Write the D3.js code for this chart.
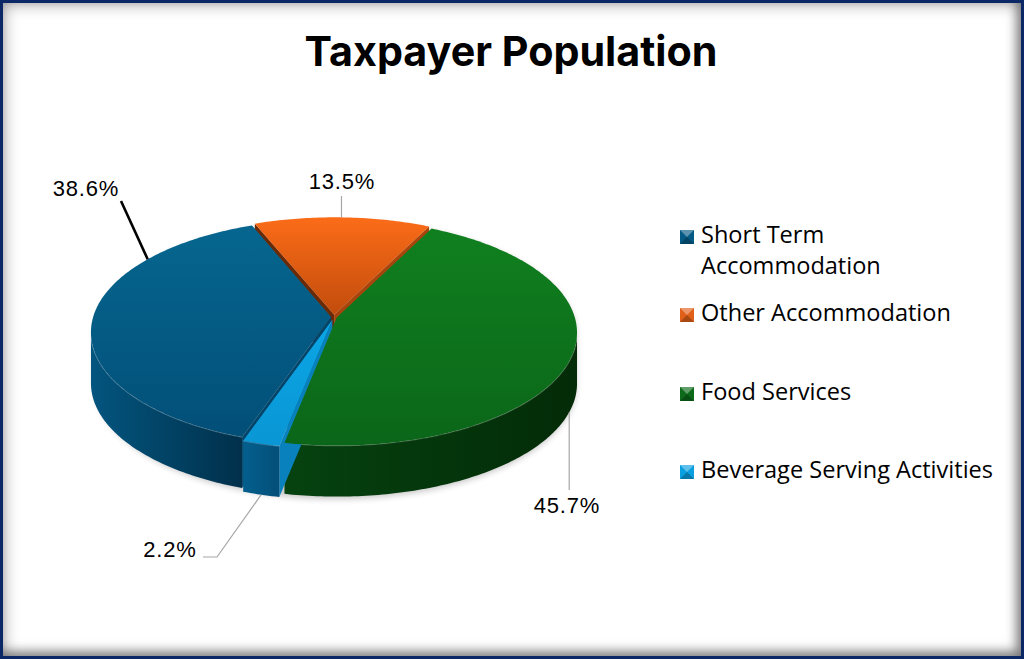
<!DOCTYPE html>
<html>
<head>
<meta charset="utf-8">
<script src="https://cdn.jsdelivr.net/npm/d3@7"></script>
<style>
html, body { margin: 0; padding: 0; background: #fff; }
#frame {
	position: relative; width: 1024px; height: 659px; box-sizing: border-box;
	border: 3px solid #0b2766; background: #fff;
	box-shadow: inset 0 0 16px rgba(0,0,0,0.42), inset -5px -5px 10px rgba(0,0,0,0.3);
}
#frame svg { position: absolute; left: -3px; top: -3px; }
</style>
</head>
<body>
<div id="frame"></div>
<script>
// chart data
var categories = ["Short Term Accommodation", "Other Accommodation", "Food Services", "Beverage Serving Activities"];
var legendLines = [["Short Term", "Accommodation"], ["Other Accommodation"], ["Food Services"], ["Beverage Serving Activities"]];
var shares = [38.6, 13.5, 45.7, 2.2];
var shareLabels = ["38.6%", "13.5%", "45.7%", "2.2%"];

// colours per slice
var topLight  = ["#06668f", "#fb6c18", "#10801f", "#0ba6e6"];
var topDark   = ["#024f78", "#c24c0c", "#0b6619", "#0a96d4"];
var wallLeft  = ["#03557f", "#9a3c08", "#064210", "#045f8e"];
var wallRight = ["#01304b", "#6a2804", "#032b07", "#034f78"];
var faceRight = ["#02456a", "#a8440c", "#05400c", "#0981bd"];
var faceLeft  = ["#013a5a", "#6b2905", "#04330a", "#03507a"];
var legendColors = ["#045a84", "#e0601a", "#0c6a1a", "#0aa0e0"];

(function(){
	'use strict'
	var W = 1024, H = 659;
	var svg = d3.select("#frame").append("svg").attr("width", W).attr("height", H);
	var defs = svg.append("defs");

	// pie geometry (a small perspective so the far half looks shorter)
	var cx = 334, cy = 317, rx = 238, ry = 111, depth = 51, persp = 0.133;
	var explode = [0.012, 0.02, 0.012, 0.026];
	var startDeg = 199;

	function project(a, r, off, h){
		var x = off[0] + r*Math.sin(a), z = off[1] + r*Math.cos(a);
		var w = 1 + persp*z;
		return [cx + rx*x/w, cy - ry*z/w + depth*h];
	}
	function arcPts(a0, a1, off, h){
		var n = Math.max(2, Math.ceil(Math.abs(a1 - a0)/0.015));
		return d3.range(n + 1).map(function(i){ return project(a0 + (a1 - a0)*i/n, 1, off, h); });
	}
	function shoelace(p){
		var s = 0;
		for(var i = 0; i < p.length; i++){
			var a = p[i], b = p[(i + 1) % p.length];
			s += a[0]*b[1] - b[0]*a[1];
		}
		return s;
	}
	var line = d3.line();
	var closed = function(p){ return line(p) + "Z"; };

	var pie = d3.pie().sort(null)
		.startAngle(startDeg*Math.PI/180)
		.endAngle(startDeg*Math.PI/180 + 2*Math.PI);
	var arcs = pie(shares).map(function(d, i){
		var mid = (d.startAngle + d.endAngle)/2;
		d.i = i;
		d.mid = mid;
		d.off = [explode[i]*Math.sin(mid), explode[i]*Math.cos(mid)];
		return d;
	});

	// soft shadow under the pie
	var blur = defs.append("filter").attr("id", "pieShadow").attr("x", "-10%").attr("y", "-10%").attr("width", "120%").attr("height", "130%");
	blur.append("feGaussianBlur").attr("stdDeviation", 3);
	var sil = Math.acos(-persp);
	var hull = arcPts(2*Math.PI - sil, 2*Math.PI + sil, [0,0], 0)
		.concat(arcPts(sil, 2*Math.PI - sil, [0,0], 1));
	svg.append("path").attr("d", closed(hull))
		.attr("fill", "#000").attr("opacity", 0.22)
		.attr("transform", "translate(2,3)")
		.attr("filter", "url(#pieShadow)");

	// gradients
	arcs.forEach(function(d, i){
		var g = defs.append("linearGradient").attr("id", "top" + i).attr("x1", 0).attr("y1", 0).attr("x2", 0).attr("y2", 1);
		g.append("stop").attr("offset", "0%").attr("stop-color", topLight[i]);
		g.append("stop").attr("offset", "100%").attr("stop-color", topDark[i]);
		var s = defs.append("linearGradient").attr("id", "wall" + i).attr("x1", 0).attr("y1", 0).attr("x2", 1).attr("y2", 0);
		s.append("stop").attr("offset", "0%").attr("stop-color", wallLeft[i]);
		s.append("stop").attr("offset", "100%").attr("stop-color", wallRight[i]);
	});

	var gWalls = svg.append("g");
	var gTops = svg.append("g");

	// walls, far slices first
	var order = arcs.slice().sort(function(a, b){ return Math.cos(b.mid) - Math.cos(a.mid); });
	order.forEach(function(d){
		var i = d.i;
		// cut faces
		[[d.startAngle, -1], [d.endAngle, 1]].forEach(function(f){
			var a = f[0];
			var poly = [project(a, 0, d.off, 0), project(a, 1, d.off, 0), project(a, 1, d.off, 1), project(a, 0, d.off, 1)];
			var s = shoelace(poly);
			if((f[1] < 0 && s < 0) || (f[1] > 0 && s > 0)){
				var facesRight = Math.sin(a + f[1]*Math.PI/2) > 0;
				gWalls.append("path").attr("d", closed(poly))
					.attr("fill", facesRight ? faceRight[i] : faceLeft[i]);
			}
		});
		// outer wall, front part only
		for(var n = 0; n < 2; n++){
			var lo = Math.max(d.startAngle, sil + 2*Math.PI*n);
			var hi = Math.min(d.endAngle, 2*Math.PI - sil + 2*Math.PI*n);
			if(hi > lo){
				var pts = arcPts(lo, hi, d.off, 0).concat(arcPts(hi, lo, d.off, 1));
				gWalls.append("path").attr("d", closed(pts)).attr("fill", "url(#wall" + i + ")");
				gWalls.append("path").attr("d", line(arcPts(lo, hi, d.off, 0)))
					.attr("fill", "none").attr("stroke", "#ffffff").attr("stroke-opacity", 0.22).attr("stroke-width", 1.5);
			}
		}
	});

	// top faces
	arcs.forEach(function(d){
		var pts = [project(0, 0, d.off, 0)].concat(arcPts(d.startAngle, d.endAngle, d.off, 0));
		gTops.append("path").attr("d", closed(pts)).attr("fill", "url(#top" + d.i + ")");
	});

	// data labels with leader lines
	var labelFont = "'Liberation Sans', Arial, sans-serif";
	var anchorDeg = [304, 2, 112, 195];
	var anchorLevel = [0, 0, 1, 1];
	var anchors = arcs.map(function(d, i){ return project(anchorDeg[i]*Math.PI/180, 1, d.off, anchorLevel[i]); });
	var leaders = [
		[anchors[0], [121, 201]],
		[anchors[1], [anchors[1][0], 196]],
		[anchors[2], [anchors[2][0], 490]],
		[anchors[3], [217, 557], [203, 557]]
	];
	var leaderColor = ["#000000", "#a6a6a6", "#a6a6a6", "#a6a6a6"];
	var leaderWidth = [2.6, 1.2, 1.2, 1.2];
	var labelPos = [[86, 196], [342, 189], [567, 513], [170, 557]];
	leaders.forEach(function(p, i){
		svg.append("path").attr("d", line(p)).attr("fill", "none")
			.attr("stroke", leaderColor[i]).attr("stroke-width", leaderWidth[i]);
	});
	shareLabels.forEach(function(t, i){
		svg.append("text").attr("x", labelPos[i][0]).attr("y", labelPos[i][1])
			.attr("text-anchor", "middle")
			.style("font-family", labelFont).style("font-size", "22px").style("letter-spacing", "0.8px")
			.attr("fill", "#000").text(t);
	});

	// title
	var title = svg.append("text").attr("x", 511).attr("y", 66).attr("text-anchor", "middle")
		.style("font-family", "Inter, 'Open Sans', sans-serif").style("font-weight", 700)
		.style("font-size", "40px").attr("fill", "#000").text("Taxpayer Population");
	var tw = title.node().getComputedTextLength();
	title.style("font-size", (40*413/tw) + "px");

	// legend
	var legendFont = "'Open Sans', 'Noto Sans', sans-serif";
	var legY = [237, 315, 394, 472];
	var legend = svg.append("g");
	var probe = legend.append("text").style("font-family", legendFont).style("font-size", "20px").text("Other Accommodation");
	var legSize = 20*250/probe.node().getComputedTextLength();
	probe.remove();
	categories.forEach(function(c, i){
		var y = legY[i], x0 = 680, sz = 14;
		var m = legend.append("g");
		m.append("rect").attr("x", x0).attr("y", y - sz/2).attr("width", sz).attr("height", sz).attr("fill", legendColors[i]);
		m.append("path").attr("d", closed([[x0, y - sz/2], [x0 + sz, y - sz/2], [x0 + sz/2, y]]))
			.attr("fill", "#fff").attr("opacity", 0.35);
		m.append("path").attr("d", closed([[x0, y + sz/2], [x0 + sz, y + sz/2], [x0 + sz/2, y]]))
			.attr("fill", "#000").attr("opacity", 0.25);
		var t = legend.append("text").attr("x", 701).attr("y", y + 6)
			.style("font-family", legendFont).style("font-size", legSize + "px").attr("fill", "#000");
		legendLines[i].forEach(function(l, k){
			t.append("tspan").attr("x", 701).attr("dy", k === 0 ? 0 : 31).text(l);
		});
	});
})();
</script>
</body>
</html>
